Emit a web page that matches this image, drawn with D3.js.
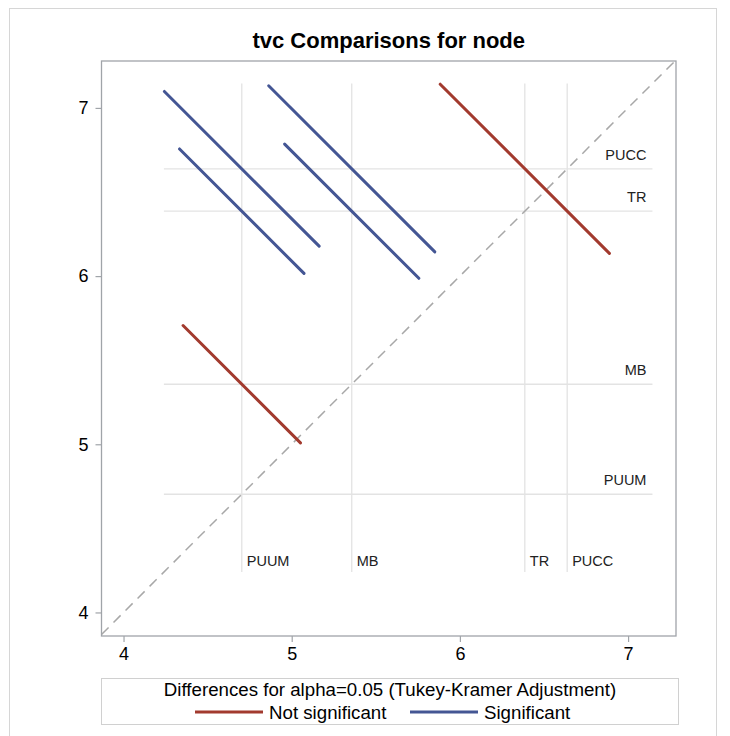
<!DOCTYPE html>
<html>
<head>
<meta charset="utf-8">
<script src="https://cdn.jsdelivr.net/npm/d3@7"></script>
<style>
  body { margin: 0; background: #fff; }
  svg { display: block; }
  text { font-family: "Liberation Sans", Arial, sans-serif; }
</style>
</head>
<body>
<svg id="chart" width="730" height="736"></svg>
<script>
// ---- data ----
const groups = ["PUUM", "MB", "TR", "PUCC"];
const groupMeans = [4.703, 5.357, 6.386, 6.638];
// each comparison: x-group, y-group, half width of the difference interval (x units), significance
const pairX = ["PUUM", "PUUM", "MB", "MB", "TR", "PUUM"];
const pairY = ["PUCC", "TR", "PUCC", "TR", "PUCC", "MB"];
const halfWidth = [0.460, 0.370, 0.494, 0.399, 0.503, 0.349];
const significant = [true, true, true, true, false, false];
const xTicks = [4, 5, 6, 7];
const yTicks = [4, 5, 6, 7];
const xDomain = [3.869, 7.285];
const yDomain = [3.860, 7.279];
const refRange = [4.24, 7.145];
const titleText = "tvc Comparisons for node";
const legendTitle = "Differences for alpha=0.05 (Tukey-Kramer Adjustment)";
const legendLabels = ["Not significant", "Significant"];

// ---- styles ----
const BLUE = "#445694", RED = "#A23A2E";
const FRAME = "#A0A4A9";

const svg = d3.select("#chart");
const L = 101.5, R = 676, T = 61, B = 636;

const x = d3.scaleLinear().domain(xDomain).range([L, R]);
const y = d3.scaleLinear().domain(yDomain).range([B, T]);

// outer border
svg.append("rect").attr("x", 9.5).attr("y", 8.5).attr("width", 707).attr("height", 740)
  .attr("fill", "none").attr("stroke", "#D6D6D6").attr("stroke-width", 1);

// title
svg.append("text").attr("x", (L + R) / 2).attr("y", 48).attr("text-anchor", "middle")
  .attr("font-size", 22).attr("font-weight", "bold").attr("fill", "#000").text(titleText);

const meanOf = g => groupMeans[groups.indexOf(g)];

// reference lines
const refG = svg.append("g");
groups.forEach((g, i) => {
  const m = groupMeans[i];
  refG.append("line").attr("x1", x(m)).attr("x2", x(m)).attr("y1", y(refRange[1])).attr("y2", y(refRange[0]))
    .attr("stroke", "#E3E3E3").attr("stroke-width", 1.3);
  refG.append("line").attr("y1", y(m)).attr("y2", y(m)).attr("x1", x(refRange[0])).attr("x2", x(refRange[1]))
    .attr("stroke", "#E3E3E3").attr("stroke-width", 1.3);
  refG.append("text").attr("x", x(m) + 5).attr("y", y(refRange[0]) - 6)
    .attr("font-size", 14.5).attr("fill", "#222").text(g);
  refG.append("text").attr("x", x(refRange[1]) - 6).attr("y", y(m) - 9).attr("text-anchor", "end")
    .attr("font-size", 14.5).attr("fill", "#222").text(g);
});

// diagonal
const d0 = Math.max(xDomain[0], yDomain[0]), d1 = Math.min(xDomain[1], yDomain[1]);
svg.append("line").attr("x1", x(d0)).attr("y1", y(d0)).attr("x2", x(d1)).attr("y2", y(d1))
  .attr("stroke", "#A8A8A8").attr("stroke-width", 1.5).attr("stroke-dasharray", "10,7");

// comparison segments
pairX.forEach((gx, i) => {
  const cx = meanOf(gx), cy = meanOf(pairY[i]), h = halfWidth[i];
  svg.append("line")
    .attr("x1", x(cx - h)).attr("y1", y(cy + h))
    .attr("x2", x(cx + h)).attr("y2", y(cy - h))
    .attr("stroke", significant[i] ? BLUE : RED).attr("stroke-width", 3).attr("stroke-linecap", "round");
});

// frame
svg.append("rect").attr("x", L).attr("y", T).attr("width", R - L).attr("height", B - T)
  .attr("fill", "none").attr("stroke", FRAME).attr("stroke-width", 1.3);

// axes
const xAxis = svg.append("g").attr("transform", `translate(0,${B})`)
  .call(d3.axisBottom(x).tickValues(xTicks).tickFormat(d3.format("d")).tickSizeOuter(0).tickSize(6).tickPadding(5));
const yAxis = svg.append("g").attr("transform", `translate(${L},0)`)
  .call(d3.axisLeft(y).tickValues(yTicks).tickFormat(d3.format("d")).tickSizeOuter(0).tickSize(6).tickPadding(7));
[xAxis, yAxis].forEach(a => {
  a.select(".domain").remove();
  a.selectAll(".tick line").attr("stroke", FRAME).attr("stroke-width", 1.2);
  a.selectAll(".tick text").attr("font-size", 18).attr("fill", "#000")
    .attr("font-family", "'Liberation Sans', Arial, sans-serif");
});

// legend
const lg = svg.append("g");
lg.append("rect").attr("x", 101.5).attr("y", 678.5).attr("width", 577).attr("height", 46)
  .attr("fill", "none").attr("stroke", "#D0D0D0").attr("stroke-width", 1);
lg.append("text").attr("x", 390).attr("y", 695.5).attr("text-anchor", "middle")
  .attr("font-size", 18.7).attr("fill", "#000").text(legendTitle);
const items = [
  { label: legendLabels[0], color: RED, x0: 195 },
  { label: legendLabels[1], color: BLUE, x0: 410 }
];
items.forEach(it => {
  lg.append("line").attr("x1", it.x0).attr("x2", it.x0 + 68).attr("y1", 712).attr("y2", 712)
    .attr("stroke", it.color).attr("stroke-width", 3);
  lg.append("text").attr("x", it.x0 + 74).attr("y", 718.5).attr("font-size", 18.7).attr("fill", "#000").text(it.label);
});
</script>
</body>
</html>
